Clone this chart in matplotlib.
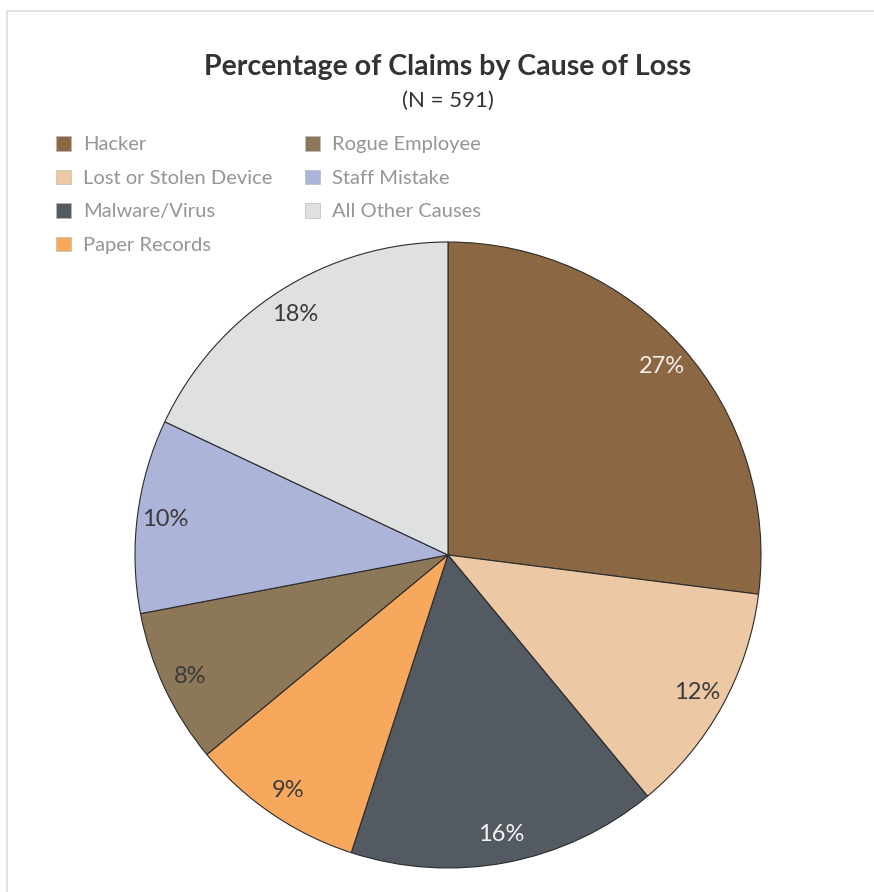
import matplotlib.pyplot as plt
from matplotlib.patches import Rectangle

causes = ['Hacker', 'Lost or Stolen Device', 'Malware/Virus', 'Paper Records',
          'Rogue Employee', 'Staff Mistake', 'All Other Causes']
shares = [27, 12, 16, 9, 8, 10, 18]
colors = ['#8c6743', '#ecc8a4', '#535a61', '#f7a85c', '#8d7759', '#adb4da', '#dfe1e0']
label_colors = ['#f4f0ea', '#3a3a3a', '#f4f4f4', '#3a3a3a', '#3a3a3a', '#3a3a3a', '#3a3a3a']

W, H = 874, 892
fig = plt.figure(figsize=(W / 100, H / 100), dpi=100)
plt.rcParams['font.family'] = ['Lato', 'DejaVu Sans']

# light frame around the chart
fig.patches.append(Rectangle((7 / W, -0.01), 1.0, 1 - 11 / H + 0.01, transform=fig.transFigure,
                             fill=False, edgecolor='#dddddd', linewidth=1.2))

cx, cy, r = 448, 555, 313
ax = fig.add_axes([(cx - r) / W, (H - cy - r) / H, 2 * r / W, 2 * r / H])
wedges, texts, autotexts = ax.pie(
    shares, colors=colors, startangle=90, counterclock=False,
    autopct='%d%%', pctdistance=0.91,
    wedgeprops=dict(edgecolor='#2b2b2b', linewidth=0.8),
    textprops=dict(fontsize=17))
for t, c in zip(autotexts, label_colors):
    t.set_color(c)
ax.set_xlim(-1, 1)
ax.set_ylim(-1, 1)
ax.set_aspect('equal')

fig.text(cx / W, 1 - 67 / H, 'Percentage of Claims by Cause of Loss', ha='center', va='center',
         fontsize=20.5, fontweight='bold', color='#333333')
fig.text(cx / W, 1 - 101 / H, '(N = 591)', ha='center', va='center', fontsize=16, color='#333333')

leg = fig.legend(wedges, causes, ncol=2, loc='upper left', bbox_to_anchor=(56 / W, 1 - 136 / H),
                 frameon=False, fontsize=14.5, handlelength=0.75, handleheight=0.75,
                 handletextpad=0.6, labelspacing=0.8, columnspacing=1.6, borderpad=0,
                 borderaxespad=0)
for t in leg.get_texts():
    t.set_color('#959595')
for h in leg.legend_handles:
    h.set_linewidth(0.5)
    h.set_edgecolor('#bbbbbb')

fig.savefig('out.png', dpi=100)
